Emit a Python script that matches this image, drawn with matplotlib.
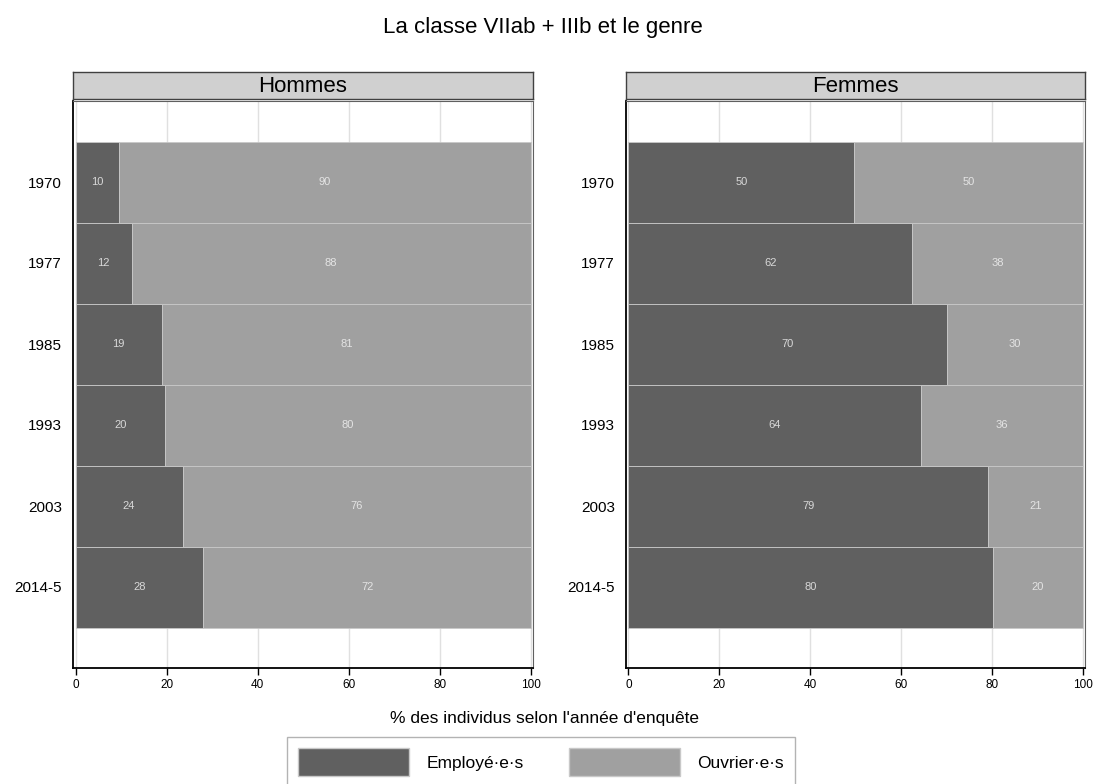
import matplotlib

matplotlib.use("Agg")
import matplotlib.pyplot as plt
from matplotlib.patches import Patch

plt.rcParams["font.family"] = ["Liberation Sans", "DejaVu Sans"]

years = ["1970", "1977", "1985", "1993", "2003", "2014-5"]
hommes_employes = [9.6, 12.3, 18.9, 19.6, 23.5, 28.1]
hommes_ouvriers = [90.4, 87.7, 81.1, 80.4, 76.5, 71.9]
femmes_employes = [49.7, 62.4, 70.1, 64.4, 79.1, 80.2]
femmes_ouvriers = [50.3, 37.6, 29.9, 35.6, 20.9, 19.8]

DARK = "#606060"
LIGHT = "#a0a0a0"
W, H = 1096, 784


def px_axes(fig, x0, y0, x1, y1):
    # pixel box (top-left origin) -> figure axes
    return fig.add_axes([x0 / W, (H - y1) / H, (x1 - x0) / W, (y1 - y0) / H])


def draw_panel(fig, x0, x1, title, emp, ouv):
    head = px_axes(fig, x0, 72, x1, 99)
    head.set_facecolor("#d0d0d0")
    head.set_xticks([])
    head.set_yticks([])
    for s in head.spines.values():
        s.set_color("#404040")
        s.set_linewidth(1.0)
    head.text(0.5, 0.45, title, ha="center", va="center", fontsize=16, transform=head.transAxes)

    ax = px_axes(fig, x0, 101, x1, 668)
    ypos = list(range(len(years)))
    b1 = ax.barh(ypos, emp, height=1.0, color=DARK, edgecolor="#c8c8c8", linewidth=0.6, zorder=2)
    b2 = ax.barh(ypos, ouv, left=emp, height=1.0, color=LIGHT, edgecolor="#c8c8c8", linewidth=0.6, zorder=2)
    ax.bar_label(b1, fmt="%.0f", label_type="center", color="#d8d8d8", fontsize=8)
    ax.bar_label(b2, fmt="%.0f", label_type="center", color="#e4e4e4", fontsize=8)

    ax.set_xlim(-0.55, 100.45)
    ax.set_ylim(len(years), -1.0)
    ax.set_yticks(ypos)
    ax.set_yticklabels(years, fontsize=11)
    ax.set_xticks([0, 20, 40, 60, 80, 100])
    ax.tick_params(axis="x", length=5, width=1, labelsize=8.5, pad=3)
    ax.tick_params(axis="y", length=0, pad=8)
    ax.grid(axis="x", color="#e0e0e0", linewidth=1, zorder=0)
    ax.set_axisbelow(True)
    for side in ("top", "right"):
        ax.spines[side].set_color("#606060")
        ax.spines[side].set_linewidth(0.8)
    for side in ("left", "bottom"):
        ax.spines[side].set_color("black")
        ax.spines[side].set_linewidth(1.3)
    return ax


fig = plt.figure(figsize=(W / 100, H / 100), dpi=100)
draw_panel(fig, 73, 533, "Hommes", hommes_employes, hommes_ouvriers)
draw_panel(fig, 626, 1085, "Femmes", femmes_employes, femmes_ouvriers)

fig.text(543 / W, 1 - 27 / H, "La classe VIIab + IIIb et le genre", ha="center", va="center", fontsize=16)
fig.text(545 / W, 1 - 718 / H, "% des individus selon l'année d'enquête", ha="center", va="center", fontsize=12.5)

handles = [Patch(facecolor=DARK, edgecolor="#c8c8c8"), Patch(facecolor=LIGHT, edgecolor="#c8c8c8")]
leg = fig.legend(
    handles,
    ["Employé·e·s", "Ouvrier·e·s"],
    ncol=2,
    loc="upper center",
    bbox_to_anchor=(541 / W, 1 - 737 / H),
    borderaxespad=0,
    fontsize=12.5,
    handlelength=6.4,
    handleheight=2.1,
    handletextpad=1.0,
    columnspacing=2.6,
    borderpad=0.65,
    fancybox=False,
    edgecolor="#a0a0a0",
)
leg.get_frame().set_linewidth(1.0)

fig.savefig("out.png", dpi=100)
plt.close(fig)
